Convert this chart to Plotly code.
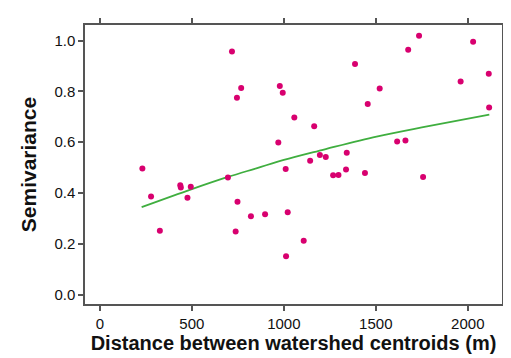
import plotly.graph_objects as go

# Observed semivariance points (distance m, semivariance)
dist = [231, 278, 326, 437, 440, 476, 494, 696, 718, 738, 745, 748, 768, 821, 898,
        970, 978, 994, 1010, 1012, 1021, 1057, 1108, 1143, 1165, 1196, 1228, 1268,
        1297, 1338, 1342, 1387, 1441, 1456, 1521, 1616, 1661, 1676, 1735, 1757,
        1961, 2029, 2114, 2116]
semi = [0.496, 0.386, 0.251, 0.430, 0.421, 0.381, 0.424, 0.461, 0.957, 0.248, 0.775,
        0.365, 0.813, 0.308, 0.316, 0.599, 0.821, 0.794, 0.494, 0.151, 0.324, 0.697,
        0.212, 0.527, 0.663, 0.549, 0.542, 0.470, 0.471, 0.492, 0.558, 0.908, 0.479,
        0.750, 0.811, 0.603, 0.606, 0.964, 1.019, 0.463, 0.839, 0.995, 0.869, 0.736]

# Fitted model curve
fit_x = [227, 500, 696, 855, 1000, 1207, 1250, 1504, 1750, 2117]
fit_y = [0.344, 0.415, 0.463, 0.498, 0.530, 0.569, 0.577, 0.622, 0.658, 0.708]

x_ticks = [0, 500, 1000, 1500, 2000]
y_ticks = [0.0, 0.2, 0.4, 0.6, 0.8, 1.0]

FONT = "Liberation Sans, Arial, sans-serif"

fig = go.Figure()
fig.add_trace(go.Scatter(x=fit_x, y=fit_y, mode="lines",
                         line=dict(color="#3fae3f", width=1.8, shape="spline"),
                         hoverinfo="skip"))
fig.add_trace(go.Scatter(x=dist, y=semi, mode="markers",
                         marker=dict(color="#d8006f", size=6)))

axis_common = dict(showgrid=False, zeroline=False, showline=True, linecolor="#555555",
                   linewidth=1.5, mirror="ticks", ticks="outside", ticklen=5,
                   tickcolor="#555555", tickwidth=1.5,
                   tickfont=dict(family=FONT, size=15, color="#111111"))

fig.update_xaxes(range=[-81, 2186], tickvals=x_ticks,
                 ticktext=[str(v) for v in x_ticks],
                 title=dict(text="<b>Distance between watershed centroids (m)</b>",
                            font=dict(family=FONT, size=20, color="#111111"), standoff=3),
                 **axis_common)
fig.update_yaxes(range=[-0.037, 1.061], tickvals=y_ticks,
                 ticktext=[f"{v:.1f}" for v in y_ticks],
                 title=dict(text="<b>Semivariance</b>",
                            font=dict(family=FONT, size=21, color="#111111"), standoff=12),
                 **axis_common)

fig.update_layout(width=511, height=358, showlegend=False,
                  margin=dict(l=77, r=15, t=10, b=62),
                  plot_bgcolor="white", paper_bgcolor="white")

fig.write_html("out.html")
